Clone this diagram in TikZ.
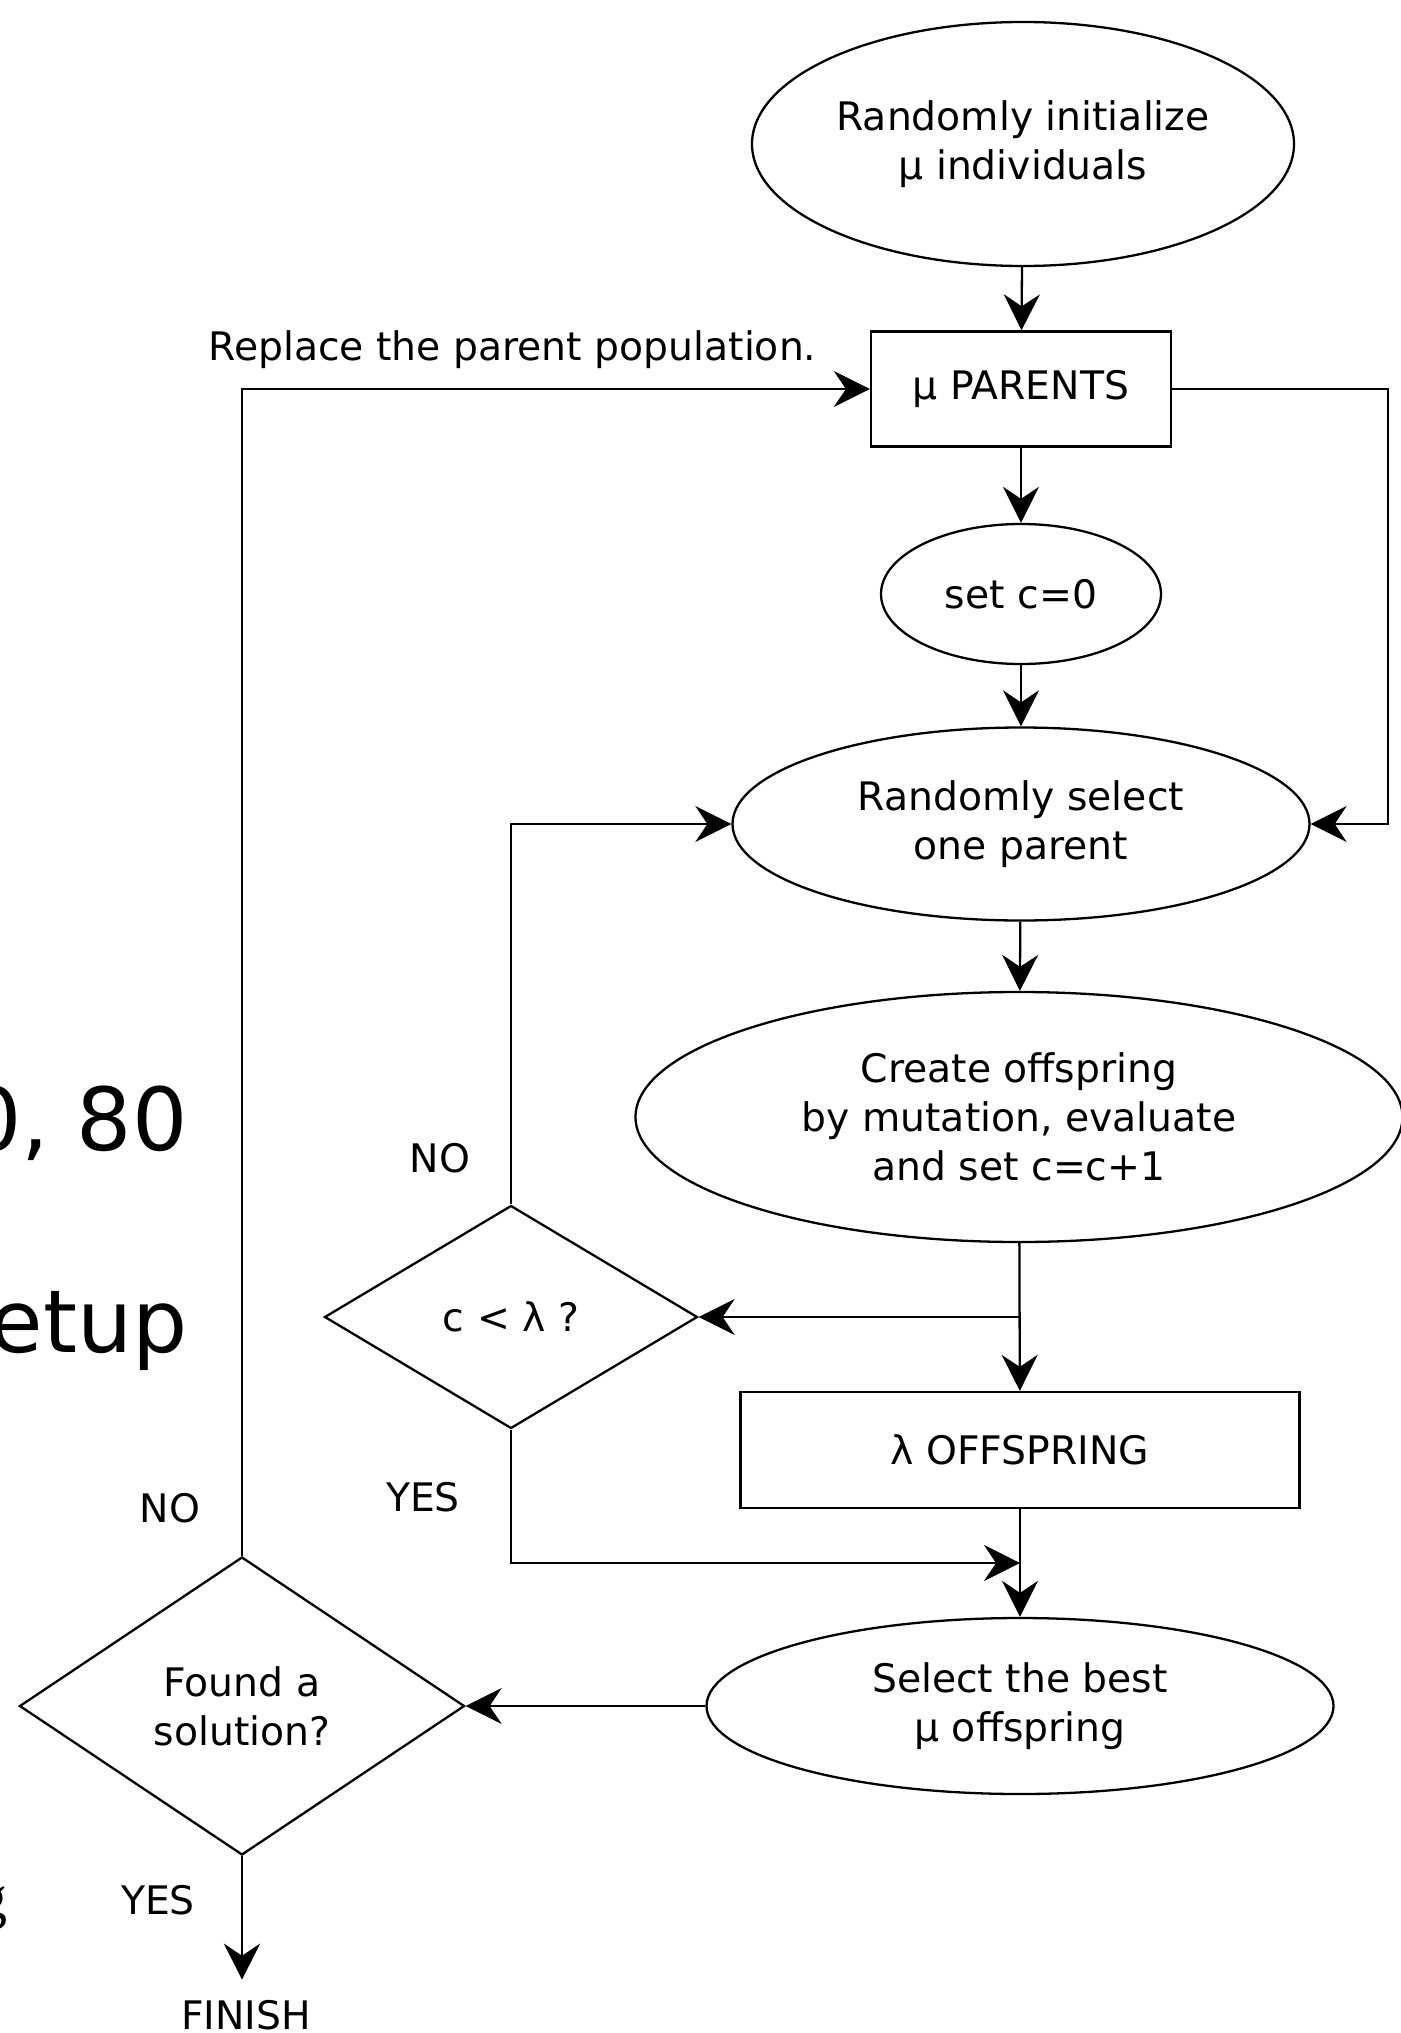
\documentclass[tikz,border=0pt]{standalone}
\usepackage{fontspec}
\setmainfont{DejaVu Sans}
\newfontfamily\serifpart{Liberation Serif}
\usetikzlibrary{calc,positioning,arrows.meta,shapes.geometric}

\begin{document}
\begin{tikzpicture}[x=1pt,y=-1pt,
		font=\fontsize{39.3}{49}\selectfont,
		line width=2.3pt,
		oval/.style={draw,ellipse,inner sep=0pt,align=center},
		box/.style={draw,rectangle,inner sep=0pt,align=center},
		decision/.style={draw,diamond,inner sep=0pt,align=center},
		flow/.style={-{Stealth[length=36pt,width=36pt,inset=12pt]}},
		bigfrag/.style={anchor=base east,font=\fontsize{87}{100}\selectfont}]
			\useasboundingbox (0,0) rectangle (1400,2033);
			
			% main column
			\node[oval,minimum width=542pt,minimum height=244pt] at (1023,144) (init) {Randomly initialize\\μ individuals};
			\node[box,minimum width=300pt,minimum height=115pt] at (1021,389) (parents) {μ PARENTS};
			\node[oval,minimum width=280pt,minimum height=140pt] at (1021,594) (setc) {set c=0};
			\node[oval,minimum width=577pt,minimum height=193pt] at (1021,824) (select) {Randomly select\\one parent};
			\node[oval,minimum width=767pt,minimum height=250pt] at (1019,1117) (create) {Create offspring\\by mutation, evaluate\\and set c=c+1};
			\node[box,minimum width=559pt,minimum height=116pt] at (1020,1450) (lambda) {λ OFFSPRING};
			\node[oval,minimum width=627pt,minimum height=176pt] at (1020,1706) (best) {Select the best\\μ offspring};
			
			% decisions
			\node[decision,minimum width=373pt,minimum height=223pt] at (511,1317) (less) {c < λ ?};
			\node[decision,minimum width=445pt,minimum height=298pt] at (242,1706) (found) {Found a\\solution?};
			\node[anchor=base,inner sep=19pt] at (246,2029) (finish) {FINISH};
			
			% labels
			\node[anchor=base west] at (204,360) (replace) {Replace the parent population.};
			\node at (440,1158) (no1) {NO};
			\node at (423,1497) (yes1) {YES};
			\node at (170,1508) (no2) {NO};
			\node at (158,1900) (yes2) {YES};
			
			% cut-off text at the left edge
			\node[bigfrag] at (192,1150) (frag1) {0, 80};
			\node[bigfrag] at (192,1352) (frag2) {etup};
			\node[anchor=base east,font=\serifpart\fontsize{60}{70}\selectfont] at (12,1917) (frag3) {g};
			
			\draw[flow] (init) -- (parents);
			\draw[flow] (parents) -- (setc);
			\draw[flow] (setc) -- (select);
			\draw[flow] (select) -- (create);
			\draw[flow] (create) -- (lambda);
			\coordinate (split) at (create.south |- less.east);
			\draw[flow] (split) -- (less.east);
			\draw[flow] (less.north) |- (select.west);
			\draw[flow] (parents.east) -- ++(216,0) |- (select.east);
			\coordinate (merge) at ($(lambda.south)!0.5!(best.north)$);
			\draw[flow] (lambda) -- (best);
			\draw[flow] (less.south) |- (merge);
			\draw[flow] (best.west) -- (found.east);
			\draw[flow] (found.north) |- (parents.west);
			\draw[flow] (found.south) -- (found.south |- finish.north);
	\end{tikzpicture}
\end{document}
